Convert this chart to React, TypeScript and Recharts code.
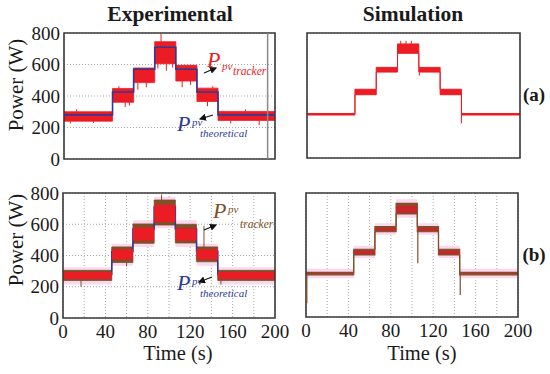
import React from 'react';
import {
  ComposedChart,
  Area,
  Line,
  XAxis,
  YAxis,
  CartesianGrid,
  ReferenceLine,
  ReferenceArea,
} from 'recharts';

// ---------- shared axes ----------
const xTicks = [0, 20, 40, 60, 80, 100, 120, 140, 160, 180, 200];
const yTicks = [0, 200, 400, 600, 800];
const expTimes = [0, 46, 66, 86, 106, 126, 146, 200];
const simTimes = [0, 45, 65, 85, 105, 125, 145, 200];

// ---------- (a) Experimental ----------
const expATheoretical = [280, 425, 570, 710, 570, 425, 280];
const expATrackerLow = [240, 360, 485, 605, 495, 365, 245];
const expATrackerHigh = [300, 448, 578, 745, 595, 450, 302];
const expASpikes = [
  { t: 6, from: 240, to: 225 },
  { t: 12, from: 300, to: 315 },
  { t: 28, from: 240, to: 228 },
  { t: 52, from: 448, to: 462 },
  { t: 58, from: 360, to: 330 },
  { t: 62, from: 360, to: 340 },
  { t: 70, from: 485, to: 440 },
  { t: 78, from: 485, to: 455 },
  { t: 89, from: 605, to: 575 },
  { t: 92, from: 745, to: 795 },
  { t: 97, from: 605, to: 560 },
  { t: 103, from: 605, to: 580 },
  { t: 112, from: 495, to: 455 },
  { t: 120, from: 495, to: 470 },
  { t: 136, from: 365, to: 335 },
  { t: 141, from: 450, to: 462 },
  { t: 158, from: 245, to: 225 },
  { t: 172, from: 302, to: 315 },
  { t: 185, from: 245, to: 215 },
];

// ---------- (a) Simulation ----------
const simALow = [275, 405, 550, 670, 550, 405, 275];
const simAHigh = [285, 440, 580, 730, 580, 440, 285];
const simASpikes = [
  { t: 88, from: 730, to: 750 },
  { t: 93, from: 730, to: 750 },
  { t: 98, from: 730, to: 750 },
  { t: 105.5, from: 570, to: 528 },
  { t: 145, from: 280, to: 222 },
];

// ---------- (b) Experimental ----------
const expBTheoretical = [280, 425, 570, 710, 570, 425, 280];
const expBHaloLow = [215, 335, 455, 575, 455, 335, 215];
const expBHaloHigh = [325, 475, 625, 775, 625, 475, 325];
const expBTrackerLow = [240, 355, 478, 595, 480, 360, 240];
const expBTrackerHigh = [305, 455, 602, 755, 600, 455, 305];
const expBRedLow = [250, 375, 495, 615, 495, 375, 250];
const expBRedHigh = [295, 440, 580, 725, 575, 440, 295];
const expBSpikes = [
  { t: 17, from: 250, to: 200 },
  { t: 60, from: 360, to: 330 },
  { t: 93, from: 750, to: 790 },
  { t: 133, from: 455, to: 590 },
  { t: 149, from: 250, to: 215 },
];

// ---------- (b) Simulation ----------
const simBHaloLow = [250, 380, 530, 640, 530, 380, 250];
const simBHaloHigh = [312, 460, 605, 760, 605, 460, 312];
const simBBrownLow = [272, 400, 550, 665, 550, 400, 272];
const simBBrownHigh = [288, 437, 583, 733, 583, 437, 288];
const simBRedLow = [277, 405, 556, 672, 556, 405, 277];
const simBRedHigh = [283, 428, 575, 718, 575, 428, 283];
const simBSpikes = [
  { t: 0.8, from: 280, to: 88 },
  { t: 105.5, from: 560, to: 346 },
  { t: 145.5, from: 280, to: 142 },
];

type Row = { [k: string]: any };

// Each segment i spans times[i]..times[i+1]; two rows per segment give a clean step shape.
function buildSteps(times: number[], series: { [k: string]: any }): Row[] {
  const rows: Row[] = [];
  for (let i = 0; i < times.length - 1; i++) {
    [times[i], times[i + 1]].forEach((t) => {
      const row: Row = { t };
      Object.keys(series).forEach((k) => {
        const s = series[k];
        row[k] = Array.isArray(s[0]) ? [s[0][i], s[1][i]] : s[i];
      });
      rows.push(row);
    });
  }
  return rows;
}

const expAData = buildSteps(expTimes, {
  theo: expATheoretical,
  band: [expATrackerLow, expATrackerHigh],
});
const simAData = buildSteps(simTimes, { band: [simALow, simAHigh] });
const expBData = buildSteps(expTimes, {
  theo: expBTheoretical,
  halo: [expBHaloLow, expBHaloHigh],
  brown: [expBTrackerLow, expBTrackerHigh],
  red: [expBRedLow, expBRedHigh],
});
const simBData = buildSteps(simTimes, {
  halo: [simBHaloLow, simBHaloHigh],
  brown: [simBBrownLow, simBBrownHigh],
  red: [simBRedLow, simBRedHigh],
});

const FONT = "Liberation Serif, DejaVu Serif, serif";
const RED = '#ec1c24';
const BLUE = '#2e3a96';
const BROWN = '#7e5128';
const PINK = '#fcd8f0';

type PanelProps = {
  x: number;
  y: number;
  w: number;
  h: number;
  showX: boolean;
  showY: boolean;
  data: Row[];
  children?: React.ReactNode;
};

function Panel({ x, y, w, h, showX, showY, data, children }: PanelProps) {
  const padL = showY ? 60 : 14;
  const padR = 20;
  const padT = 10;
  const padB = showX ? 30 : 12;
  const tickStyle = { fontSize: 19, fill: '#1a1a1a', fontFamily: FONT };
  return (
    <div style={{ position: 'absolute', left: x - padL, top: y - padT }}>
      <ComposedChart
        width={padL + w + padR}
        height={padT + h + padB}
        data={data}
        margin={{ top: padT, right: padR, bottom: showX ? 0 : padB, left: showY ? 0 : padL }}
        style={{ fontFamily: FONT }}
      >
        <CartesianGrid stroke="#a8a8a8" strokeDasharray="1 2" />
        <XAxis
          dataKey="t"
          type="number"
          domain={[0, 200]}
          ticks={xTicks}
          interval={0}
          tickFormatter={(v: number) => (v % 40 === 0 ? String(v) : '')}
          height={showX ? 30 : 0}
          tick={showX ? tickStyle : false}
          axisLine={false}
          tickLine={false}
          tickSize={0}
          tickMargin={7}
          allowDataOverflow
        />
        <YAxis
          type="number"
          domain={[0, 800]}
          ticks={yTicks}
          interval={0}
          width={showY ? 60 : 0}
          tick={showY ? tickStyle : false}
          axisLine={false}
          tickLine={false}
          tickSize={0}
          tickMargin={4}
          allowDataOverflow
        />
        {children}
        <ReferenceArea
          x1={0}
          x2={200}
          y1={0}
          y2={800}
          fill="none"
          fillOpacity={0}
          stroke="#3a3a3a"
          strokeWidth={1.6}
        />
      </ComposedChart>
    </div>
  );
}

function spikeLines(spikes: { t: number; from: number; to: number }[], color: string, width = 1) {
  return spikes.map((s, i) => (
    <ReferenceLine
      key={'sp' + i}
      segment={[
        { x: s.t, y: s.from },
        { x: s.t, y: s.to },
      ]}
      stroke={color}
      strokeWidth={width}
    />
  ));
}

function band(key: string, fill: string, stroke: string, sw = 0.8) {
  return (
    <Area
      key={key + fill}
      type="linear"
      dataKey={key}
      fill={fill}
      fillOpacity={fill === 'none' ? 0 : 1}
      stroke={stroke}
      strokeWidth={sw}
      dot={false}
      activeDot={false}
      isAnimationActive={false}
    />
  );
}

export default function App() {
  return (
    <div
      style={{
        position: 'absolute',
        left: 0,
        top: 0,
        width: 550,
        height: 374,
        background: '#fff',
        overflow: 'hidden',
        fontFamily: FONT,
      }}
    >
      {/* (a) Experimental */}
      <Panel x={64} y={33} w={211} h={126} showX={false} showY={true} data={expAData}>
        {band('band', RED, RED, 0.8)}
        {spikeLines(expASpikes, RED, 1)}
        <Line
          type="linear"
          dataKey="theo"
          stroke={BLUE}
          strokeWidth={1.6}
          dot={false}
          activeDot={false}
          isAnimationActive={false}
        />
        <ReferenceLine x={193} stroke="#8a8a8a" strokeWidth={1.5} />
      </Panel>

      {/* (a) Simulation */}
      <Panel x={307} y={33} w={213} h={125} showX={false} showY={false} data={simAData}>
        {band('band', RED, RED, 1)}
        {spikeLines(simASpikes, RED, 1)}
      </Panel>

      {/* (b) Experimental */}
      <Panel x={63} y={193} w={212} h={125} showX={true} showY={true} data={expBData}>
        {band('halo', PINK, 'none', 0)}
        {band('brown', BROWN, BROWN, 0.8)}
        {band('theo', 'none', BLUE, 1.5)}
        {band('red', RED, 'none', 0)}
        {spikeLines(expBSpikes, BROWN, 1)}
      </Panel>

      {/* (b) Simulation */}
      <Panel x={306} y={193} w={212} h={124} showX={true} showY={false} data={simBData}>
        {band('halo', PINK, 'none', 0)}
        {band('brown', BROWN, BROWN, 1.2)}
        {band('red', '#c8262a', 'none', 0)}
        {spikeLines(simBSpikes, BROWN, 1.2)}
      </Panel>

      {/* overlay text */}
      <svg
        width={550}
        height={374}
        style={{ position: 'absolute', left: 0, top: 0, pointerEvents: 'none' }}
      >
        <defs>
          <marker id="ah" markerWidth="6" markerHeight="6" refX="5" refY="3" orient="auto">
            <path d="M0,0 L6,3 L0,6 Z" fill="#111" />
          </marker>
        </defs>
        <g fill="#1a1a1a" style={{ fontFamily: FONT }}>
          <text x={170} y={21} fontSize={21.5} fontWeight="bold" textAnchor="middle">
            Experimental
          </text>
          <text x={413} y={21} fontSize={21.5} fontWeight="bold" textAnchor="middle">
            Simulation
          </text>
          <text transform="translate(23,85) rotate(-90)" fontSize={21} textAnchor="middle">
            Power (W)
          </text>
          <text transform="translate(23,240) rotate(-90)" fontSize={21} textAnchor="middle">
            Power (W)
          </text>
          <text x={178} y={360} fontSize={20.5} textAnchor="middle">
            Time (s)
          </text>
          <text x={422} y={360} fontSize={20.5} textAnchor="middle">
            Time (s)
          </text>
          <text x={534} y={101} fontSize={19} fontWeight="bold" textAnchor="middle">
            (a)
          </text>
          <text x={534} y={261} fontSize={19} fontWeight="bold" textAnchor="middle">
            (b)
          </text>

          {/* (a) annotations */}
          <g fill={RED} fontStyle="italic">
            <text x={207} y={67} fontSize={22}>P</text>
            <text x={222} y={70} fontSize={11}>pv</text>
            <text x={233} y={75} fontSize={11.5}>tracker</text>
          </g>
          <g fill={BLUE} fontStyle="italic">
            <text x={177} y={131} fontSize={22}>P</text>
            <text x={192} y={126} fontSize={11}>pv</text>
            <text x={200} y={137} fontSize={11}>theoretical</text>
          </g>
          <line x1={204} y1={73} x2={216} y2={68} stroke="#111" strokeWidth={1.2} markerEnd="url(#ah)" />
          <line x1={213} y1={115} x2={200} y2={119} stroke="#111" strokeWidth={1.2} markerEnd="url(#ah)" />

          {/* (b) annotations */}
          <g fill={BROWN} fontStyle="italic">
            <text x={213} y={218} fontSize={22}>P</text>
            <text x={228} y={213} fontSize={11}>pv</text>
            <text x={240} y={228} fontSize={11.5}>tracker</text>
          </g>
          <g fill={BLUE} fontStyle="italic">
            <text x={177} y={290} fontSize={22}>P</text>
            <text x={192} y={285} fontSize={11}>pv</text>
            <text x={200} y={297} fontSize={11}>theoretical</text>
          </g>
          <line x1={204} y1={230} x2={216} y2={225} stroke="#111" strokeWidth={1.2} markerEnd="url(#ah)" />
          <line x1={212} y1={277} x2={199} y2={282} stroke="#111" strokeWidth={1.2} markerEnd="url(#ah)" />
        </g>
      </svg>
    </div>
  );
}
